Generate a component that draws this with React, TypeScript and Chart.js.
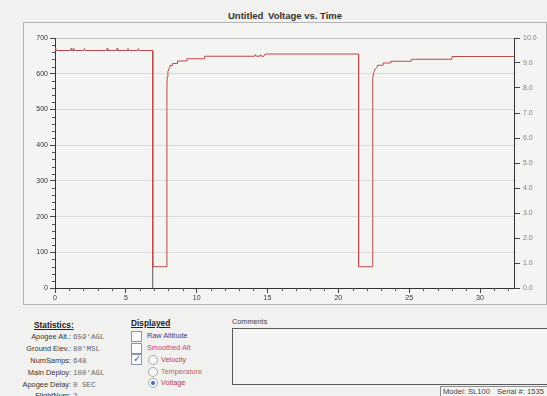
import React, { useEffect, useRef } from "react";
import { Chart, registerables } from "chart.js";
Chart.register(...registerables);

// ---- data ----
const timeSec = [
  0, 0.05,
  1.09, 1.14, 1.19,
  1.28, 1.33, 1.38,
  2.03, 2.08, 2.13,
  3.63, 3.68, 3.73,
  4.33, 4.38, 4.43,
  5.1, 5.15, 5.2,
  5.85, 5.9, 5.95,
  6.9, 6.9, 7.9, 7.9, 7.92, 7.97, 8.03, 8.11, 8.11, 8.3, 8.3, 8.65, 8.65, 9.31, 9.31, 10.56, 10.56,
  14.1, 14.15, 14.22, 14.45, 14.5, 14.58, 14.75, 14.8, 14.9,
  21.43, 21.43, 22.42, 22.42, 22.44, 22.5, 22.6, 22.76, 22.76, 23.16, 23.16, 23.7, 23.7, 25.15, 25.15, 28.02, 28.02, 32.4,
];
const voltage = [
  9.6, 9.5,
  9.5, 9.58, 9.5,
  9.5, 9.58, 9.5,
  9.5, 9.58, 9.5,
  9.5, 9.58, 9.5,
  9.5, 9.58, 9.5,
  9.5, 9.58, 9.5,
  9.5, 9.58, 9.5,
  9.5, 0.85, 0.85, 8.0, 8.45, 8.65, 8.76, 8.82, 8.9, 8.9, 8.98, 8.98, 9.08, 9.08, 9.17, 9.17, 9.27,
  9.27, 9.34, 9.27, 9.27, 9.34, 9.27, 9.27, 9.34, 9.36,
  9.36, 0.85, 0.85, 8.0, 8.4, 8.62, 8.76, 8.84, 8.91, 8.91, 9.0, 9.0, 9.07, 9.07, 9.15, 9.15, 9.26, 9.26,
];
const eventTime = [6.9, 6.9];
const eventLevel = [0, 1.0];
const altTicks = [0, 100, 200, 300, 400, 500, 600, 700];
const voltTicks = [0, 1, 2, 3, 4, 5, 6, 7, 8, 9, 10];
const timeTicks = [0, 5, 10, 15, 20, 25, 30];
const timeMax = 32.4;

const statLabels = ["Apogee Alt.:", "Ground Elev.:", "NumSamps:", "Main Deploy:", "Apogee Delay:", "FlightNum:"];
const statValues = ["659'AGL", "80'MSL", "648", "100'AGL", "0 SEC", "2"];

const FONT = "'Liberation Sans', Arial, sans-serif";
const MONO = "'Liberation Mono', 'Courier New', monospace";

const minorTicks = {
  id: "minorTicks",
  afterDraw(chart: any) {
    const { ctx, chartArea: a, scales } = chart;
    const x = scales.x;
    const y = scales.y;
    ctx.save();
    ctx.strokeStyle = "#555";
    ctx.lineWidth = 1;
    ctx.beginPath();
    for (let t = 1; t < timeMax; t++) {
      if (t % 5 === 0) continue;
      const px = Math.round(x.getPixelForValue(t)) + 0.5;
      ctx.moveTo(px, a.bottom);
      ctx.lineTo(px, a.bottom + 3);
    }
    const top = altTicks[altTicks.length - 1];
    for (let v = 20; v < top; v += 20) {
      if (v % 100 === 0) continue;
      const py = Math.round(y.getPixelForValue(v)) + 0.5;
      ctx.moveTo(a.left - 3, py);
      ctx.lineTo(a.left, py);
    }
    ctx.stroke();
    ctx.restore();
  },
};

function VoltageChart() {
  const ref = useRef<HTMLCanvasElement | null>(null);
  useEffect(() => {
    if (!ref.current) return;
    const tickFont = { family: FONT, size: 7 };
    const chart = new Chart(ref.current, {
      type: "scatter",
      data: {
        datasets: [
          {
            label: "Voltage",
            data: timeSec.map((t, i) => ({ x: t, y: voltage[i] })),
            yAxisID: "y1",
            borderColor: "#b84a4a",
            borderWidth: 1,
            pointRadius: 0,
            showLine: true,
            tension: 0,
          },
          {
            label: "Event",
            data: eventTime.map((t, i) => ({ x: t, y: eventLevel[i] })),
            yAxisID: "y1",
            borderColor: "#555555",
            borderWidth: 1,
            pointRadius: 0,
            showLine: true,
          },
        ],
      },
      options: {
        animation: false,
        responsive: false,
        devicePixelRatio: 1,
        layout: { padding: { top: 38, left: 0, right: 0, bottom: 0 } },
        plugins: {
          legend: { display: false },
          title: { display: false },
          tooltip: { enabled: false },
        },
        scales: {
          x: {
            type: "linear",
            min: 0,
            max: timeMax,
            afterBuildTicks: (s: any) => {
              s.ticks = timeTicks.map((v) => ({ value: v }));
            },
            afterFit: (s: any) => {
              s.height = 20;
            },
            grid: { drawOnChartArea: false, drawTicks: true, tickLength: 5, tickColor: "#444" },
            border: { color: "#333", width: 1 },
            ticks: { color: "#333", font: tickFont, padding: 1, maxRotation: 0, autoSkip: false },
          },
          y: {
            position: "left",
            min: 0,
            max: 700,
            afterBuildTicks: (s: any) => {
              s.ticks = altTicks.map((v) => ({ value: v }));
            },
            afterFit: (s: any) => {
              s.width = 55;
            },
            grid: {
              color: (c: any) => (c.tick && c.tick.value === 0 ? "rgba(0,0,0,0)" : c.tick && c.tick.value === 700 ? "#c4c4c4" : "#dadada"),
              tickColor: "#444",
              tickLength: 5,
            },
            border: { color: "#333", width: 1 },
            ticks: { color: "#333", font: tickFont, padding: 2 },
          },
          y1: {
            position: "right",
            min: 0,
            max: 10,
            afterBuildTicks: (s: any) => {
              s.ticks = voltTicks.map((v) => ({ value: v }));
            },
            afterFit: (s: any) => {
              s.width = 33;
            },
            grid: { drawOnChartArea: false, tickColor: "#444", tickLength: 6 },
            border: { color: "#333", width: 1 },
            ticks: {
              color: "#8a8070",
              font: tickFont,
              padding: 3,
              callback: (v: any) => Number(v).toFixed(1),
            },
          },
        },
      } as any,
      plugins: [minorTicks],
    });
    return () => chart.destroy();
  }, []);
  return (
    <canvas
      ref={ref}
      width={547}
      height={308}
      style={{ position: "absolute", left: 0, top: 0, width: 547, height: 308 }}
    />
  );
}

function Box({ left, top, checked }: { left: number; top: number; checked?: boolean }) {
  return (
    <div
      style={{
        position: "absolute",
        left,
        top,
        width: 9,
        height: 9,
        border: "1px solid #8494ad",
        background: "#fbfbfb",
      }}
    >
      {checked ? (
        <span
          style={{
            position: "absolute",
            left: 1,
            top: -2,
            fontSize: 10,
            lineHeight: "12px",
            color: "#3a5fc0",
            fontFamily: "'DejaVu Sans', sans-serif",
          }}
        >
          ✓
        </span>
      ) : null}
    </div>
  );
}

function Radio({ left, top, on }: { left: number; top: number; on?: boolean }) {
  return (
    <div
      style={{
        position: "absolute",
        left,
        top,
        width: 8,
        height: 8,
        borderRadius: "50%",
        border: "1px solid #a8a8a8",
        background: "#f8f8f8",
      }}
    >
      {on ? (
        <div
          style={{
            position: "absolute",
            left: 2,
            top: 2,
            width: 4,
            height: 4,
            borderRadius: "50%",
            background: "#3a6ad0",
          }}
        />
      ) : null}
    </div>
  );
}

export default function App() {
  const txt = (left: number, cy: number, s: string, extra: any = {}) => (
    <div
      style={{
        position: "absolute",
        left,
        top: cy - 5,
        height: 10,
        lineHeight: "10px",
        fontFamily: FONT,
        fontSize: 7.3,
        whiteSpace: "nowrap",
        ...extra,
      }}
    >
      {s}
    </div>
  );
  const rowY = [337, 349, 361, 372.5, 384.5, 396];
  return (
    <div
      style={{
        position: "fixed",
        left: 0,
        top: 0,
        width: 547,
        height: 396,
        overflow: "hidden",
        background: "#f1f1ef",
        fontFamily: FONT,
      }}
    >
      {/* chart frame */}
      <div
        style={{
          position: "absolute",
          left: 23,
          top: 22,
          width: 522,
          height: 281,
          border: "1px solid #b4b4b4",
          background: "#f4f4f2",
        }}
      />
      {/* title */}
      <div
        style={{
          position: "absolute",
          left: 228,
          top: 10,
          lineHeight: "12px",
          fontSize: 9.5,
          fontWeight: "bold",
          color: "#333",
          whiteSpace: "nowrap",
        }}
      >
        Untitled
      </div>
      <div
        style={{
          position: "absolute",
          left: 268,
          top: 10,
          lineHeight: "12px",
          fontSize: 9.5,
          fontWeight: "bold",
          color: "#333",
          whiteSpace: "nowrap",
        }}
      >
        Voltage vs. Time
      </div>

      <VoltageChart />

      {/* Statistics */}
      {txt(34, 325, "Statistics:", { fontWeight: "bold", fontSize: 8.3, textDecoration: "underline", color: "#222" })}
      {statLabels.map((l, i) => (
        <div
          key={"l" + i}
          style={{
            position: "absolute",
            left: 0,
            width: 71,
            top: rowY[i] - 5,
            lineHeight: "10px",
            fontSize: 7.4,
            textAlign: "right",
            color: "#333",
            whiteSpace: "nowrap",
          }}
        >
          {l}
        </div>
      ))}
      {statValues.map((v, i) => (
        <div
          key={"v" + i}
          style={{
            position: "absolute",
            left: 73,
            top: rowY[i] - 5,
            lineHeight: "10px",
            fontSize: 7.5,
            fontFamily: MONO,
            color: "#666",
            whiteSpace: "nowrap",
          }}
        >
          {v}
        </div>
      ))}

      {/* Displayed */}
      {txt(131, 323, "Displayed", { fontWeight: "bold", fontSize: 8.3, textDecoration: "underline", color: "#222" })}
      <Box left={131} top={331} />
      {txt(147, 336, "Raw Altitude", { color: "#2e3f8f" })}
      <Box left={131} top={343} />
      {txt(147, 347.5, "Smoothed Alt", { color: "#c4428a" })}
      <Box left={131} top={354} checked />
      <Radio left={148} top={355} />
      {txt(161, 359.5, "Velocity", { color: "#b2463c" })}
      <Radio left={148} top={367} />
      {txt(161, 371.5, "Temperature", { color: "#c2683c" })}
      <Radio left={148} top={378} on />
      {txt(161, 383, "Voltage", { color: "#b23c3c" })}

      {/* Comments */}
      {txt(232, 321.5, "Comments", { color: "#444" })}
      <div
        style={{
          position: "absolute",
          left: 232,
          top: 328,
          width: 340,
          height: 55,
          border: "1px solid #5a5a5a",
          background: "#f4f4f2",
        }}
      />

      {/* Model / Serial */}
      <div
        style={{
          position: "absolute",
          left: 440,
          top: 386,
          width: 130,
          height: 16,
          border: "1px solid #8a8a8a",
          background: "#f4f4f2",
        }}
      />
      {txt(443, 391.5, "Model: SL100", { color: "#444", fontSize: 7.6 })}
      {txt(497, 391.5, "Serial #: 1535", { color: "#444", fontSize: 7.6 })}
    </div>
  );
}
